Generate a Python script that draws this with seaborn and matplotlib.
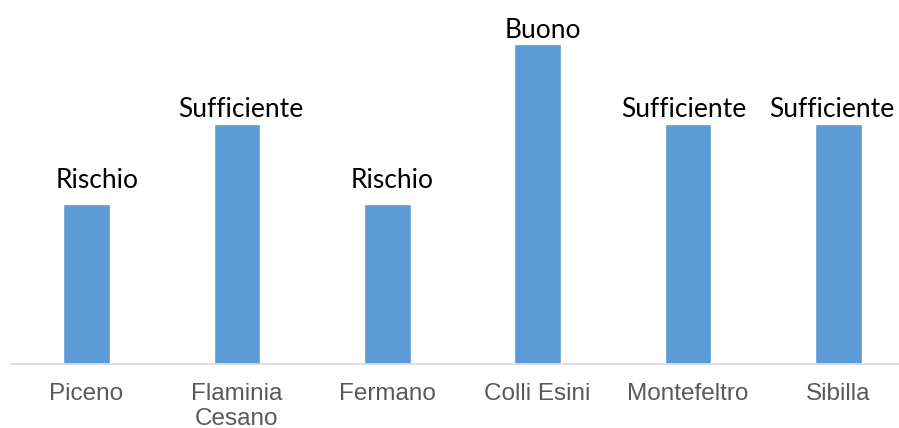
import matplotlib
matplotlib.use("Agg")
import matplotlib.pyplot as plt
import seaborn as sns
import pandas as pd

# Territorial areas and their rating level
aree = ["Piceno", "Flaminia\nCesano", "Fermano", "Colli Esini", "Montefeltro", "Sibilla"]
giudizi = ["Rischio", "Sufficiente", "Rischio", "Buono", "Sufficiente", "Sufficiente"]
scala = {"Rischio": 2, "Sufficiente": 3, "Buono": 4}
livelli = [scala[g] for g in giudizi]

# label nudges (pixels) so that the rating texts sit clear of each other and the edge
spost_x = [11, 4, 4.5, 5, -4, -6.5]
spost_y = [16, 7, 16, 6, 7, 7]

df = pd.DataFrame({"area": aree, "livello": livelli})

sns.set_style("white")
fig = plt.figure(figsize=(8.99, 4.28), dpi=100)
ax = fig.add_axes([0.0126, 0.1495, 1.0037, 0.841])

sns.barplot(data=df, x="area", y="livello", color="#5B9BD5", saturation=1,
            width=0.31, ax=ax)

ax.set_ylim(0, 4.5)
ax.set_xlim(-0.5, len(aree) - 0.5)

for patch, testo, dx, dy in zip(ax.patches, giudizi, spost_x, spost_y):
    cx = patch.get_x() + patch.get_width() / 2
    ax.annotate(testo, xy=(cx, patch.get_height()), xytext=(dx, dy),
                textcoords="offset pixels", ha="center", va="baseline",
                fontsize=19, color="#000000", family=["Lato", "DejaVu Sans"],
                annotation_clip=False)

for s in ["top", "right", "left"]:
    ax.spines[s].set_visible(False)
ax.spines["bottom"].set_color("#d9d9d9")
ax.spines["bottom"].set_linewidth(1.2)

ax.set_yticks([])
ax.set_xlabel("")
ax.set_ylabel("")
ax.tick_params(axis="x", length=0, pad=14, labelsize=17.5, colors="#595959")
for t in ax.get_xticklabels():
    t.set_family(["Liberation Sans", "DejaVu Sans"])
    t.set_linespacing(1.13)

fig.savefig("out.png", dpi=100)
